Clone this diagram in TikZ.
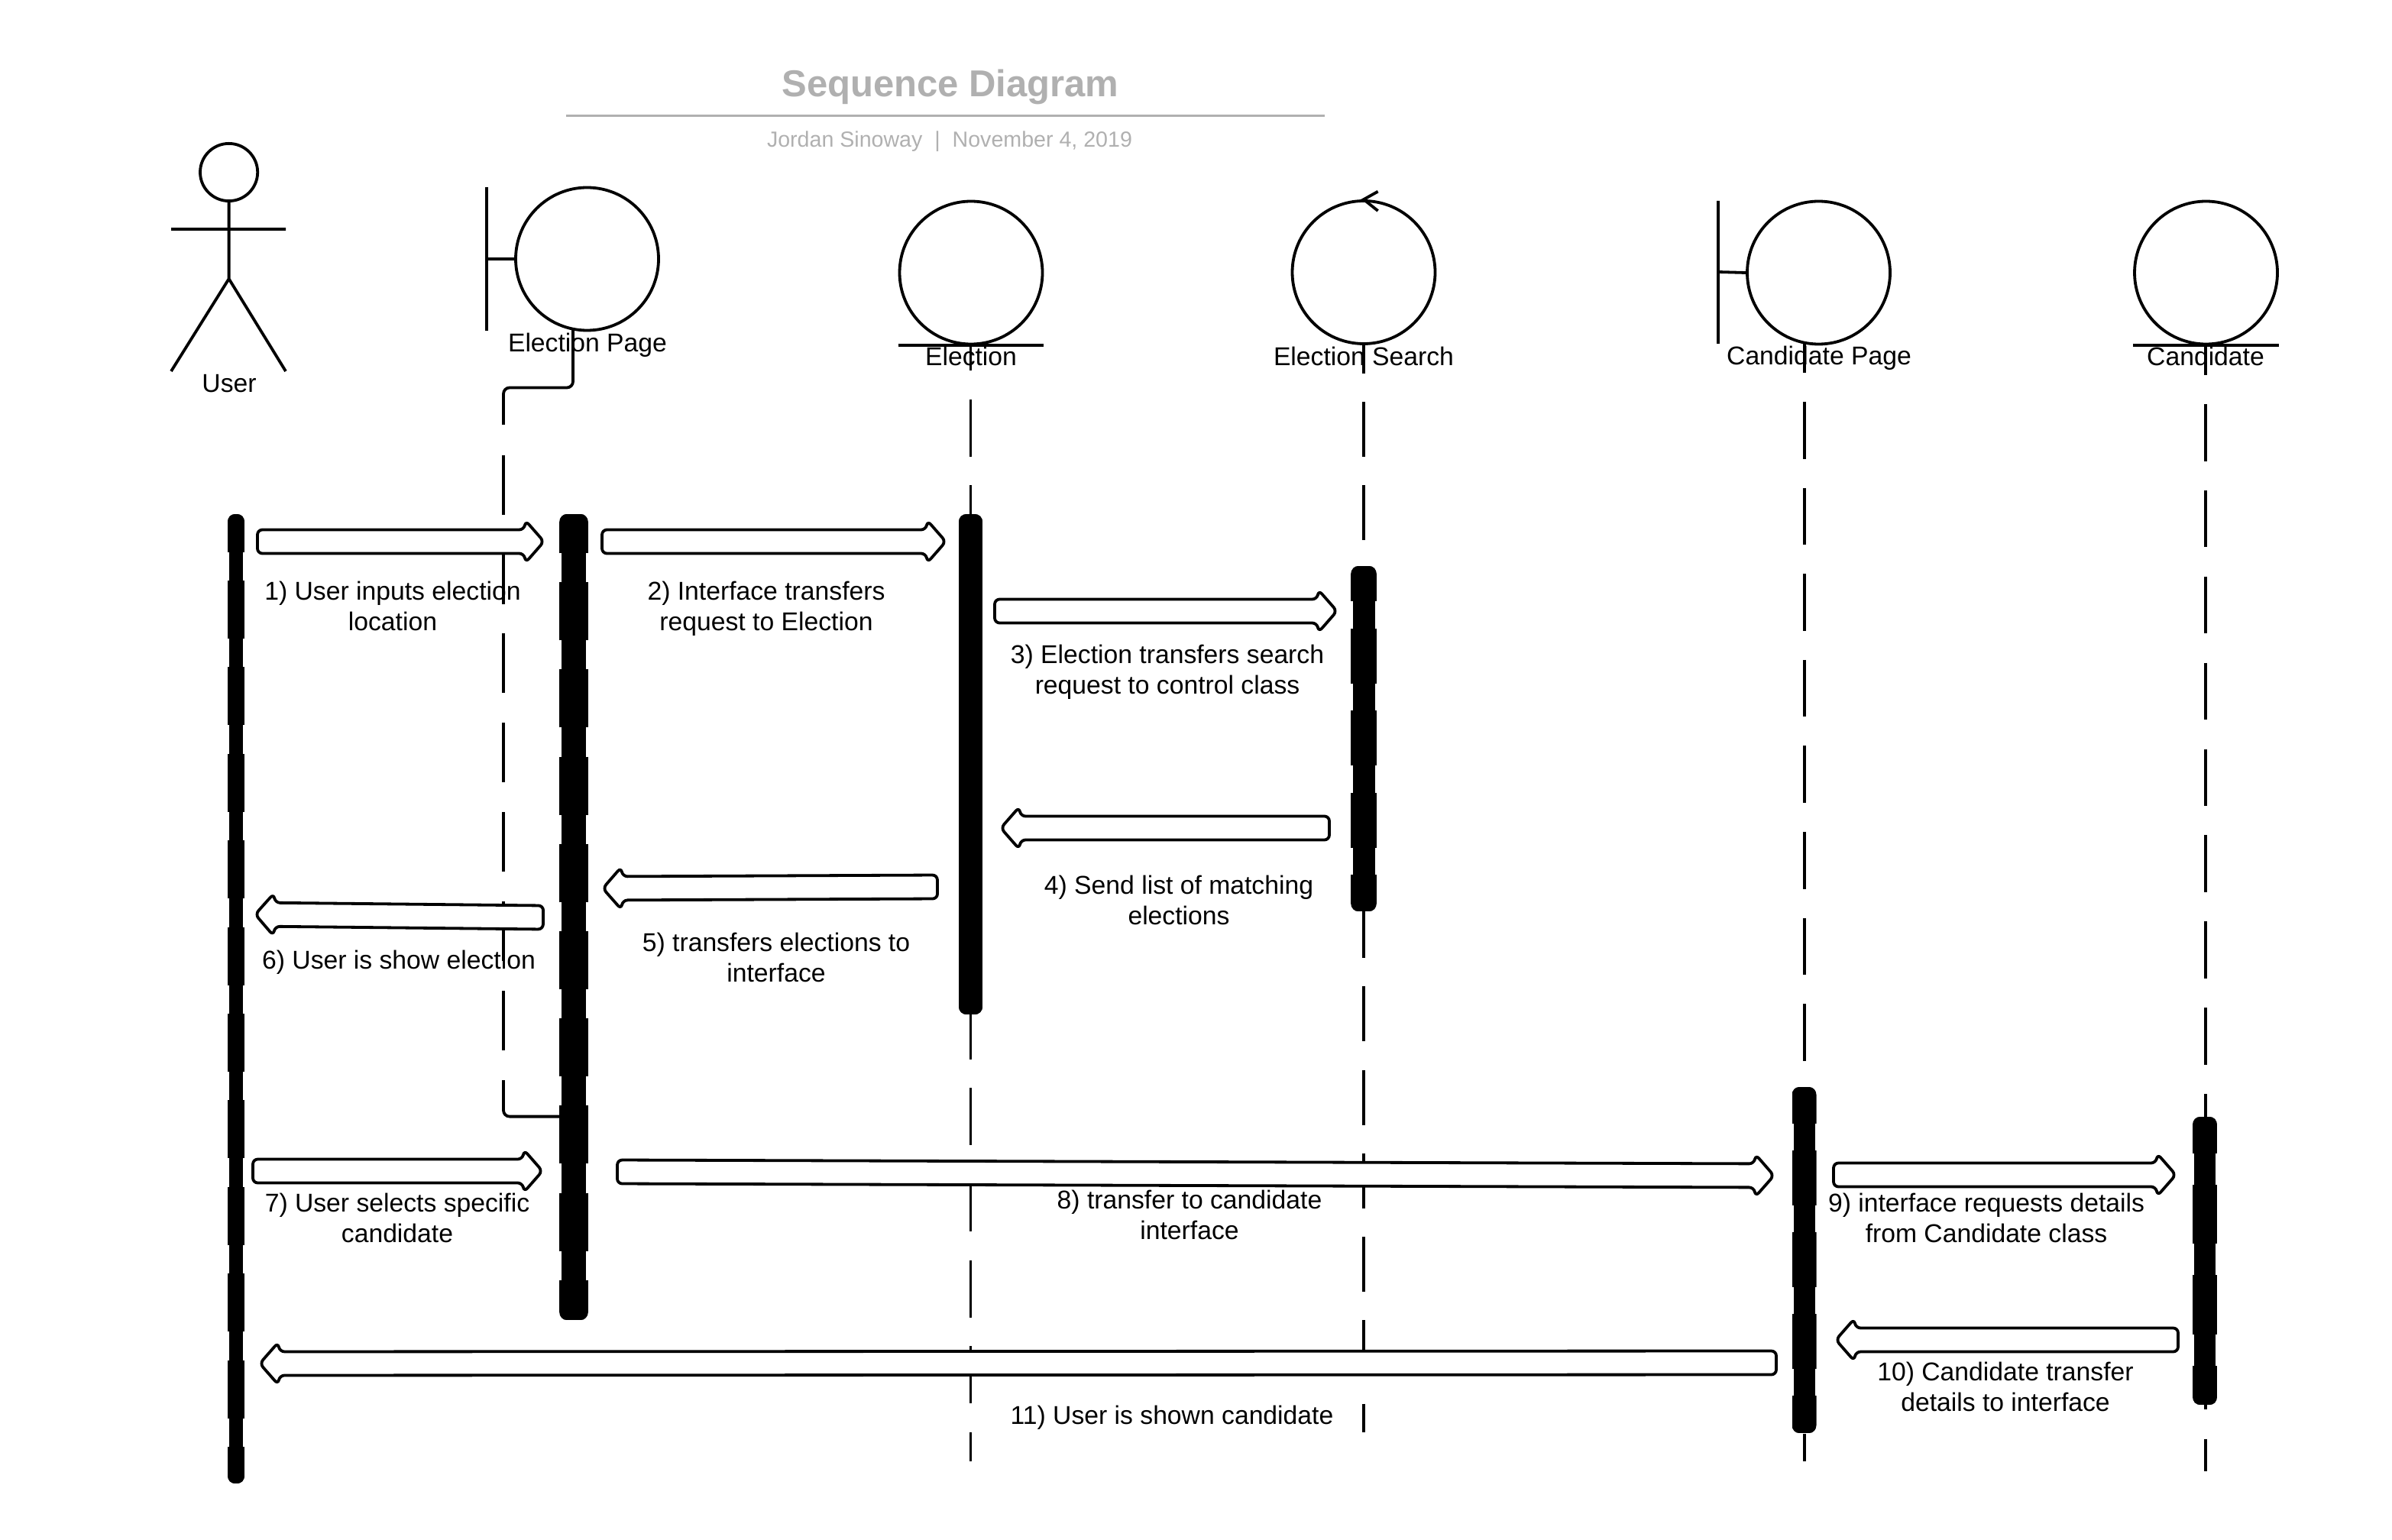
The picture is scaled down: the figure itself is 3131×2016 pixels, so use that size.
\documentclass[tikz,border=0pt]{standalone}
\usepackage{fontspec}
\setmainfont{Liberation Sans}
\usetikzlibrary{calc}
\definecolor{titlegray}{HTML}{B0B0B0}
\tikzset{
  umlcircle/.style={circle,draw,line width=1.9pt,minimum size=93.5pt,inner sep=0pt},
  umlline/.style={line width=1.9pt},
  lifeline/.style={line width=1.9pt},
  flowbox/.style={draw,fill=white,line width=1.9pt,rounded corners=3.2pt,line join=round},
  lbl/.style={inner sep=0pt,align=center,font=\fontsize{16.85}{20}\selectfont},
}
% activation bar: name, x, top, bottom, half wide, half narrow, on, off, phase (bar numbers in px, dash in pt)
\newcommand\actbar[9]{%
  \coordinate (#1) at (#2,#3);
  \begin{scope}
    \clip[rounded corners=5pt] ({#2-#5},#3) rectangle ({#2+#5},#4);
    \fill ({#2-#6},#3) rectangle ({#2+#6},#4);
    \draw[line width={(#5)*1pt}, dash pattern=on #7pt off #8pt, dash phase=#9pt] (#2,#3) -- (#2,#4);
  \end{scope}}
\newcommand\flowarrow[2]{%
  \path let \p1=($(#2)-(#1)$), \n1={atan2(\y1,\x1)}, \n2={veclen(\x1,\y1)} in
    \pgfextra{\pgfmathsetmacro\tmpang{\n1}\xdef\flowang{\tmpang}\pgfmathsetlengthmacro\tmplen{\n2}\xdef\flowlen{\tmplen}};
  \draw[flowbox, shift={(#1)}, rotate=\flowang]
    (8pt,7.75pt) -- ({\flowlen-13pt},7.75pt) -- ({\flowlen-12pt},13.7pt) -- (\flowlen,0pt)
    -- ({\flowlen-12pt},-13.7pt) -- ({\flowlen-13pt},-7.75pt) -- (0pt,-7.75pt) -- (0pt,7.75pt) -- cycle;}
\begin{document}
\begin{tikzpicture}[x=0.5pt,y=-0.5pt]
\useasboundingbox (0,0) rectangle (3131,2016);
% title
\node[name=title,inner sep=0pt,text=titlegray,font=\fontsize{24.5}{28}\selectfont\bfseries] at (1244,114) {Sequence Diagram};
\node[name=subtitle,inner sep=0pt,text=titlegray,font=\fontsize{14.3}{18}\selectfont] at (1243,185) {Jordan Sinoway\ \ |\ \ November 4, 2019};
\coordinate (ruleL) at (741,152);
\coordinate (ruleR) at (1734,152);
\draw[titlegray,line width=1.5pt] (ruleL) -- (ruleR);

% lifelines
\coordinate (epA) at (750,432); \coordinate (epB) at (750,507.5); \coordinate (epC) at (659,507.5); \coordinate (epD) at (659,556);
\coordinate (epE) at (659,595.6); \coordinate (epF) at (659,1375);
\coordinate (epG) at (659,1414); \coordinate (epH) at (659,1461.6); \coordinate (epI) at (735,1461.6);
\draw[lifeline,rounded corners=4pt] (epA) -- (epB) -- (epC) -- (epD);
\draw[lifeline,dash pattern=on 39pt off 19.45pt] (epE) -- (epF);
\draw[lifeline,rounded corners=4pt] (epG) -- (epH) -- (epI);

\coordinate (elA) at (1270.5,452); \coordinate (elB) at (1270.5,1913);
\draw[lifeline,dash pattern=on 37.5pt off 18.85pt,dash phase=21pt] (elA) -- (elB);
\coordinate (esA) at (1785,450); \coordinate (esB) at (1785,1875);
\draw[lifeline,dash pattern=on 36pt off 18.65pt,dash phase=16.6pt] (esA) -- (esB);
\coordinate (cpA) at (2362,450); \coordinate (cpB) at (2362,1913);
\draw[lifeline,dash pattern=on 37.3pt off 19pt,dash phase=18.3pt] (cpA) -- (cpB);
\coordinate (caA) at (2887,452); \coordinate (caB) at (2887,1926);
\draw[lifeline,dash pattern=on 37.3pt off 19.15pt,dash phase=18pt] (caA) -- (caB);

% activation bars
\actbar{barU}{309}{673}{1942}{11.2}{9}{38}{18.7}{13.2}
\actbar{barP}{751}{673}{1728}{18.8}{16}{38}{19.1}{12.5}
\actbar{barE}{1270.5}{673}{1328}{15.5}{15.5}{38}{0}{0}
\actbar{barS}{1785}{741}{1193}{16.8}{14.5}{36}{17.8}{13}
\actbar{barC}{2361.5}{1423}{1876}{16}{14}{36}{17.5}{12}
\actbar{barD}{2886}{1462}{1839}{16}{14}{38.8}{20.5}{15}

% actor
\node[umlcircle,name=uHead,minimum size=37.6pt] at (299.6,225.5) {};
\coordinate (uHip) at (299.6,365); \coordinate (uArmL) at (224,300); \coordinate (uArmR) at (374,300);
\coordinate (uLegL) at (224,486); \coordinate (uLegR) at (374,486);
\draw[umlline] (uHead.south) -- (uHip) (uArmL) -- (uArmR) (uLegL) -- (uHip) -- (uLegR);
\node[lbl,name=lUser] at (300,502) {User};

% boundary: election page
\node[umlcircle,name=cPage] at (768.5,339) {};
\coordinate (bPageT) at (637,245); \coordinate (bPageB) at (637,433); \coordinate (bPageM) at (637,339);
\draw[umlline] (bPageT) -- (bPageB) (bPageM) -- (cPage.west);
\node[lbl,name=lPage] at (769,452) {Election Page};

% entity: election
\node[umlcircle,name=cElec] at (1271,357) {};
\draw[umlline] (cElec.south -| cElec.west) -- (cElec.south -| cElec.east);
\node[lbl,name=lElec] at (1271,466) {Election};

% control: election search
\node[umlcircle,name=cSearch] at (1785,356.5) {};
\coordinate (sW1) at (1803.6,250.7); \coordinate (sW2) at (1803.6,276);
\draw[umlline] (sW1) -- (cSearch.north) -- (sW2);
\node[lbl,name=lSearch] at (1785,466) {Election Search};

% boundary: candidate page
\node[umlcircle,name=cCPage] at (2380.5,357) {};
\coordinate (bCT) at (2249,263); \coordinate (bCB) at (2249,450); \coordinate (bCM) at (2249,356);
\draw[umlline] (bCT) -- (bCB) (bCM) -- (cCPage.west);
\node[lbl,name=lCPage] at (2381,469) {Candidate Page};

% entity: candidate
\node[umlcircle,name=cCand] at (2887.5,357) {};
\draw[umlline] (cCand.south -| cCand.west) -- (cCand.south -| cCand.east);
\node[lbl,name=lCand] at (2887,466) {Candidate};

% message arrows
\coordinate (m1a) at (337,709);    \coordinate (m1b) at (712,709);
\coordinate (m2a) at (788,709);    \coordinate (m2b) at (1238,709);
\coordinate (m3a) at (1302,800);   \coordinate (m3b) at (1750,800);
\coordinate (m4a) at (1740,1084);  \coordinate (m4b) at (1310,1084);
\coordinate (m5a) at (1227,1161);  \coordinate (m5b) at (789,1163);
\coordinate (m6a) at (711,1201);   \coordinate (m6b) at (334,1197);
\coordinate (m7a) at (331,1533);   \coordinate (m7b) at (710,1533);
\coordinate (m8a) at (808,1534);   \coordinate (m8b) at (2322,1539);
\coordinate (m9a) at (2400,1538);  \coordinate (m9b) at (2848,1538);
\coordinate (m10a) at (2851,1754); \coordinate (m10b) at (2403,1754);
\coordinate (m11a) at (2325,1784); \coordinate (m11b) at (340,1785);
\flowarrow{m1a}{m1b}
\flowarrow{m2a}{m2b}
\flowarrow{m3a}{m3b}
\flowarrow{m4a}{m4b}
\flowarrow{m5a}{m5b}
\flowarrow{m6a}{m6b}
\flowarrow{m7a}{m7b}
\flowarrow{m8a}{m8b}
\flowarrow{m9a}{m9b}
\flowarrow{m10a}{m10b}
\flowarrow{m11a}{m11b}

% message labels
\node[lbl,name=t1] at (514,793) {1) User inputs election\\location};
\node[lbl,name=t2] at (1003,797) {2) Interface transfers\\request to Election};
\node[lbl,name=t3] at (1528,880) {3) Election transfers search\\request to control class};
\node[lbl,name=t4] at (1543,1178) {4) Send list of matching\\elections};
\node[lbl,name=t5] at (1016,1253) {5) transfers elections to\\interface};
\node[lbl,name=t6] at (522,1260) {6) User is show election};
\node[lbl,name=t7] at (520,1594) {7) User selects specific\\candidate};
\node[lbl,name=t8] at (1557,1590) {8) transfer to candidate\\interface};
\node[lbl,name=t9] at (2600,1594) {9) interface requests details\\from Candidate class};
\node[lbl,name=t10] at (2625,1815) {10) Candidate transfer\\details to interface};
\node[lbl,name=t11] at (1534,1856) {11) User is shown candidate};
\end{tikzpicture}
\end{document}
